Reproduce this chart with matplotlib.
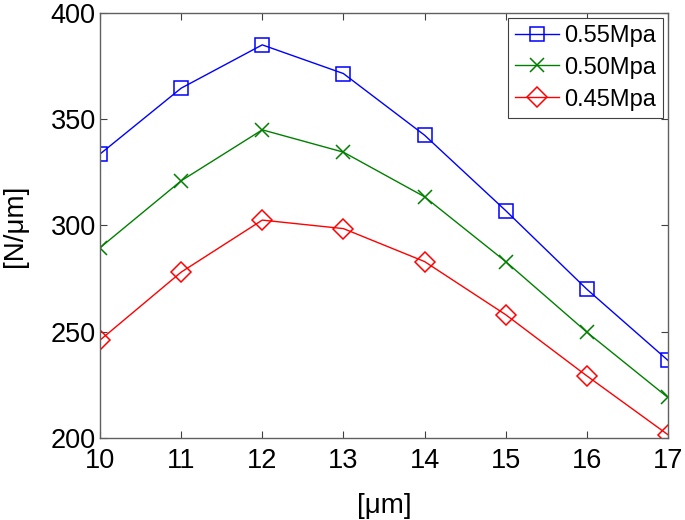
import matplotlib
matplotlib.use("Agg")
import matplotlib.pyplot as plt

plt.rcParams['font.family'] = ['Liberation Sans', 'DejaVu Sans']

x = [10, 11, 12, 13, 14, 15, 16, 17]
s055 = [333.6, 364.6, 385.0, 371.5, 342.5, 307.0, 270.0, 236.5]
s050 = [289.5, 321.0, 345.0, 334.5, 313.5, 283.0, 249.8, 219.0]
s045 = [246.0, 278.0, 302.5, 298.5, 283.0, 258.0, 229.2, 201.5]
labels = ['0.55Mpa', '0.50Mpa', '0.45Mpa']
xticks = [10, 11, 12, 13, 14, 15, 16, 17]
yticks = [200, 250, 300, 350, 400]

fig = plt.figure(figsize=(6.85, 5.2), dpi=100)
ax = fig.add_axes([0.146, 0.158, 0.829, 0.817])

ax.plot(x, s055, color='#0000ff', marker='s', mfc='none', ms=10, mew=1.1, lw=1.0, label=labels[0])
ax.plot(x, s050, color='#008000', marker='x', ms=10, mew=1.1, lw=1.0, label=labels[1])
ax.plot(x, s045, color='#ff0000', marker='D', mfc='none', ms=10, mew=1.1, lw=1.0, label=labels[2])

ax.set_xlim(10, 17)
ax.set_ylim(200, 400)
ax.set_xticks(xticks)
ax.set_yticks(yticks)
ax.tick_params(direction='in', top=True, right=True, labelsize=19.5, length=5, color='#404040', pad=3)
ax.tick_params(axis='x', pad=7)
for sp in ax.spines.values():
    sp.set_color('#606060')
    sp.set_linewidth(1.0)
ax.set_xlabel('[μm]', fontsize=20, labelpad=14)
ax.set_ylabel('[N/μm]', fontsize=20, labelpad=16)

leg = ax.legend(loc='upper right', fontsize=17, fancybox=False, framealpha=1,
                edgecolor='#404040', handlelength=1.9, handletextpad=0.2,
                borderpad=0.3, labelspacing=0.42, borderaxespad=0.2)
leg.get_frame().set_linewidth(0.8)

fig.savefig('out.png', dpi=100)
